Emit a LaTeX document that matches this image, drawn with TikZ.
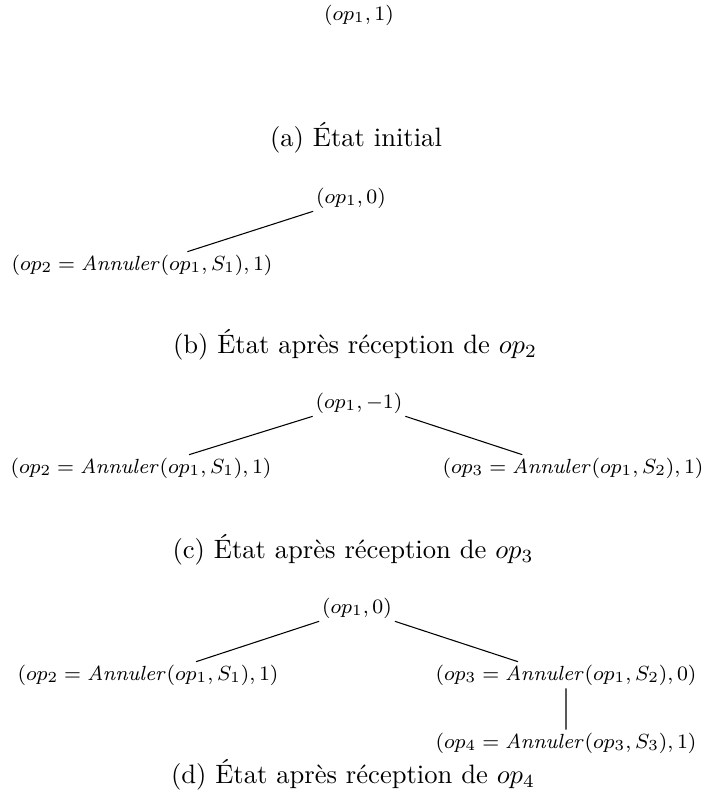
\documentclass[tikz,border=0pt]{standalone}
\usetikzlibrary{calc}
\newcommand{\Ann}{\mathit{Annuler}}

\begin{document}
\begin{tikzpicture}[x=0.376pt, y=-0.376pt,
		etat/.style={font=\footnotesize, inner sep=1pt, scale=0.963, transform shape},
		legende/.style={font=\normalsize}]
		\useasboundingbox (0,0) rectangle (704,798);
		% (a)
		\node[etat] (a0) at (359, 15) {$(op_1, 1)$};
		\node[legende] (la) at (356, 138) {(a) État initial};
		% (b)
		\node[etat] (b0) at (351, 198) {$(op_1, 0)$};
		\node[etat] (b1) at (142, 265) {$(op_2 = \Ann(op_1, S_1), 1)$};
		\draw (b0.south west) -- ($(b1.north west)!0.67!(b1.north east)$);
		\node[legende] (lb) at (355, 345) {(b) État après réception de $op_2$};
		% (c)
		\node[etat] (c0) at (359, 403) {$(op_1, -1)$};
		\node[etat] (c1) at (141, 468) {$(op_2 = \Ann(op_1, S_1), 1)$};
		\node[etat] (c2) at (573, 468) {$(op_3 = \Ann(op_1, S_2), 1)$};
		\draw (c0.south west) -- ($(c1.north west)!0.68!(c1.north east)$);
		\draw (c0.south east) -- ($(c2.north west)!0.31!(c2.north east)$);
		\node[legende] (lc) at (353, 550) {(c) État après réception de $op_3$};
		% (d)
		\node[etat] (d0) at (357, 608) {$(op_1, 0)$};
		\node[etat] (d1) at (148, 675) {$(op_2 = \Ann(op_1, S_1), 1)$};
		\node[etat] (d2) at (566, 675) {$(op_3 = \Ann(op_1, S_2), 0)$};
		\node[etat] (d3) at (566, 743) {$(op_4 = \Ann(op_3, S_3), 1)$};
		\draw (d0.south west) -- ($(d1.north west)!0.68!(d1.north east)$);
		\draw (d0.south east) -- ($(d2.north west)!0.32!(d2.north east)$);
		\draw (d2) -- (d3);
		\node[legende] (ld) at (353, 775) {(d) État après réception de $op_4$};
	\end{tikzpicture}
\end{document}
